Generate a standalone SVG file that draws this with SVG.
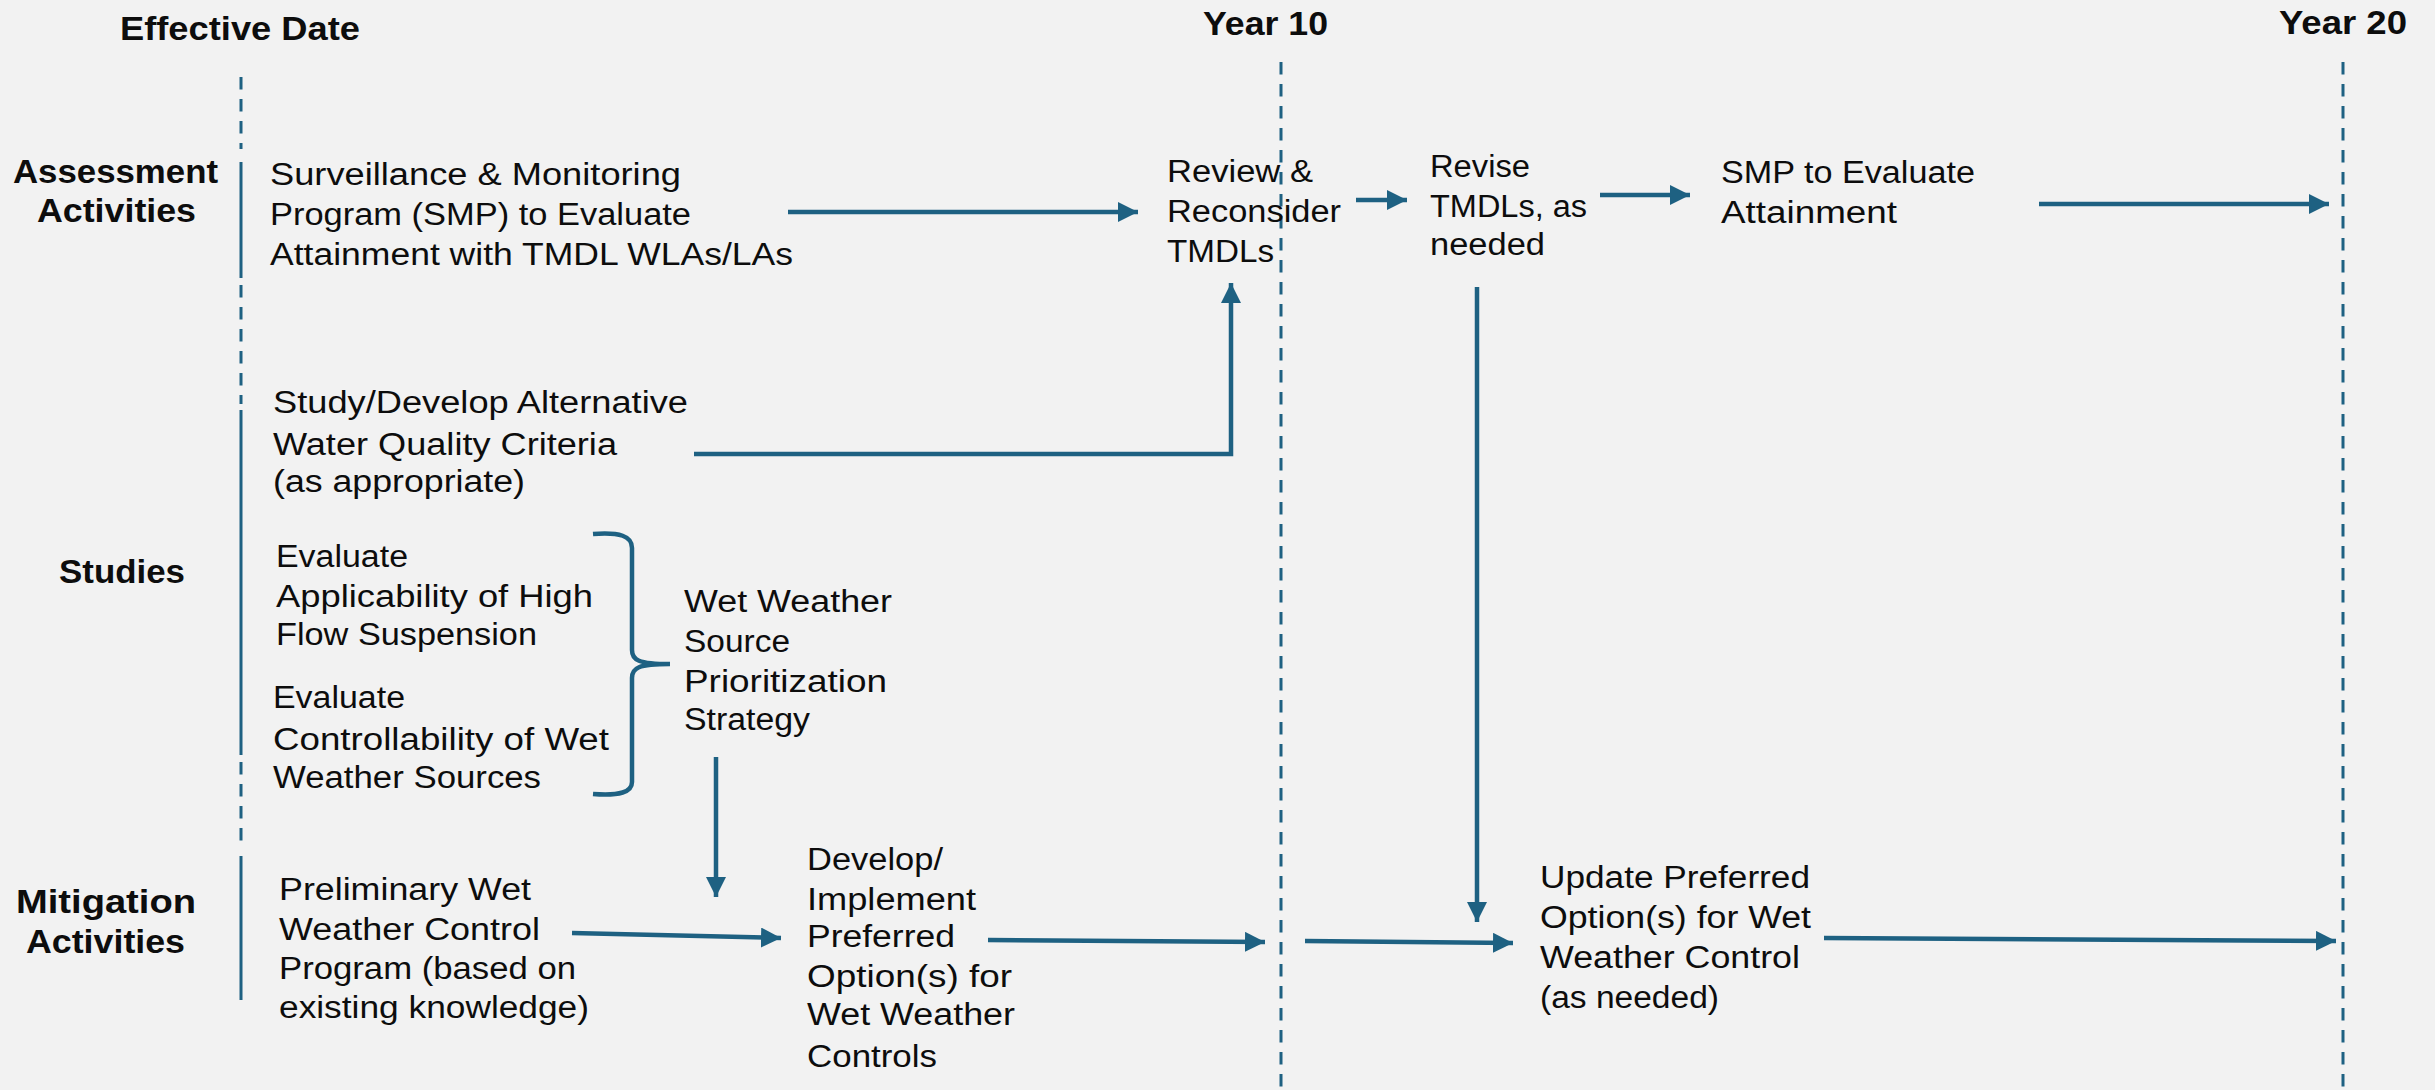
<svg xmlns="http://www.w3.org/2000/svg" width="2435" height="1090" viewBox="0 0 2435 1090">
<style>
  .t { font-family: "Liberation Sans", Arial, sans-serif; font-size: 31px; fill: #0d0d0d; }
  .h { font-family: "Liberation Sans", Arial, sans-serif; font-size: 33px; font-weight: bold; fill: #0d0d0d; }
  .c { fill: none; stroke: #1e6182; stroke-width: 4.5; }
  .tl { fill: none; stroke: #1e6182; stroke-width: 3; stroke-dasharray: 12.5 9.5; }
  .ts { fill: none; stroke: #1e6182; stroke-width: 3; }
</style>
<defs>
  <marker id="ah" markerUnits="userSpaceOnUse" markerWidth="20" markerHeight="20" refX="20" refY="10" orient="auto">
    <path d="M0,0 L20,10 L0,20 z" fill="#1e6182"/>
  </marker>
</defs>
<rect width="2435" height="1090" fill="#f2f2f2"/>

<g id="timeline">
  <line class="tl" x1="241" y1="77" x2="241" y2="149"/>
  <line class="ts" x1="241" y1="162" x2="241" y2="278"/>
  <line class="tl" x1="241" y1="285" x2="241" y2="404"/>
  <line class="ts" x1="241" y1="410" x2="241" y2="755"/>
  <line class="tl" x1="241" y1="762" x2="241" y2="850"/>
  <line class="ts" x1="241" y1="856" x2="241" y2="1000"/>
  <line class="tl" x1="1281" y1="62" x2="1281" y2="1090"/>
  <line class="tl" x1="2343" y1="62" x2="2343" y2="1090"/>
  <text class="h" x="120" y="40" textLength="240" lengthAdjust="spacingAndGlyphs">Effective Date</text>
  <text class="h" x="1203" y="35" textLength="125" lengthAdjust="spacingAndGlyphs">Year 10</text>
  <text class="h" x="2279" y="34" textLength="128" lengthAdjust="spacingAndGlyphs">Year 20</text>
</g>

<g id="row-labels">
  <text class="h" x="13" y="183" textLength="205" lengthAdjust="spacingAndGlyphs">Assessment</text>
  <text class="h" x="37" y="222" textLength="159" lengthAdjust="spacingAndGlyphs">Activities</text>
  <text class="h" x="59" y="583" textLength="126" lengthAdjust="spacingAndGlyphs">Studies</text>
  <text class="h" x="16" y="913" textLength="180" lengthAdjust="spacingAndGlyphs">Mitigation</text>
  <text class="h" x="26" y="953" textLength="159" lengthAdjust="spacingAndGlyphs">Activities</text>
</g>

<g id="smp">
  <text class="t" x="270" y="185" textLength="411" lengthAdjust="spacingAndGlyphs">Surveillance &amp; Monitoring</text>
  <text class="t" x="270" y="225" textLength="421" lengthAdjust="spacingAndGlyphs">Program (SMP) to Evaluate</text>
  <text class="t" x="270" y="265" textLength="523" lengthAdjust="spacingAndGlyphs">Attainment with TMDL WLAs/LAs</text>
</g>

<g id="review">
  <text class="t" x="1167" y="182" textLength="146" lengthAdjust="spacingAndGlyphs">Review &amp;</text>
  <text class="t" x="1167" y="222" textLength="174" lengthAdjust="spacingAndGlyphs">Reconsider</text>
  <text class="t" x="1167" y="262" textLength="107" lengthAdjust="spacingAndGlyphs">TMDLs</text>
</g>

<g id="revise">
  <text class="t" x="1430" y="177" textLength="100" lengthAdjust="spacingAndGlyphs">Revise</text>
  <text class="t" x="1430" y="217" textLength="157" lengthAdjust="spacingAndGlyphs">TMDLs, as</text>
  <text class="t" x="1430" y="255" textLength="115" lengthAdjust="spacingAndGlyphs">needed</text>
</g>

<g id="smp2">
  <text class="t" x="1721" y="183" textLength="254" lengthAdjust="spacingAndGlyphs">SMP to Evaluate</text>
  <text class="t" x="1721" y="223" textLength="176" lengthAdjust="spacingAndGlyphs">Attainment</text>
</g>

<g id="criteria">
  <text class="t" x="273" y="413" textLength="415" lengthAdjust="spacingAndGlyphs">Study/Develop Alternative</text>
  <text class="t" x="273" y="455" textLength="344" lengthAdjust="spacingAndGlyphs">Water Quality Criteria</text>
  <text class="t" x="273" y="492" textLength="252" lengthAdjust="spacingAndGlyphs">(as appropriate)</text>
</g>

<g id="highflow">
  <text class="t" x="276" y="567" textLength="132" lengthAdjust="spacingAndGlyphs">Evaluate</text>
  <text class="t" x="276" y="607" textLength="317" lengthAdjust="spacingAndGlyphs">Applicability of High</text>
  <text class="t" x="276" y="645" textLength="261" lengthAdjust="spacingAndGlyphs">Flow Suspension</text>
</g>

<g id="controllability">
  <text class="t" x="273" y="708" textLength="132" lengthAdjust="spacingAndGlyphs">Evaluate</text>
  <text class="t" x="273" y="750" textLength="336" lengthAdjust="spacingAndGlyphs">Controllability of Wet</text>
  <text class="t" x="273" y="788" textLength="268" lengthAdjust="spacingAndGlyphs">Weather Sources</text>
</g>

<g id="strategy">
  <text class="t" x="684" y="612" textLength="208" lengthAdjust="spacingAndGlyphs">Wet Weather</text>
  <text class="t" x="684" y="652" textLength="106" lengthAdjust="spacingAndGlyphs">Source</text>
  <text class="t" x="684" y="692" textLength="203" lengthAdjust="spacingAndGlyphs">Prioritization</text>
  <text class="t" x="684" y="730" textLength="126" lengthAdjust="spacingAndGlyphs">Strategy</text>
</g>

<g id="preliminary">
  <text class="t" x="279" y="900" textLength="252" lengthAdjust="spacingAndGlyphs">Preliminary Wet</text>
  <text class="t" x="279" y="940" textLength="261" lengthAdjust="spacingAndGlyphs">Weather Control</text>
  <text class="t" x="279" y="979" textLength="297" lengthAdjust="spacingAndGlyphs">Program (based on</text>
  <text class="t" x="279" y="1018" textLength="310" lengthAdjust="spacingAndGlyphs">existing knowledge)</text>
</g>

<g id="develop">
  <text class="t" x="807" y="870" textLength="136" lengthAdjust="spacingAndGlyphs">Develop/</text>
  <text class="t" x="807" y="910" textLength="169" lengthAdjust="spacingAndGlyphs">Implement</text>
  <text class="t" x="807" y="947" textLength="148" lengthAdjust="spacingAndGlyphs">Preferred</text>
  <text class="t" x="807" y="987" textLength="205" lengthAdjust="spacingAndGlyphs">Option(s) for</text>
  <text class="t" x="807" y="1025" textLength="208" lengthAdjust="spacingAndGlyphs">Wet Weather</text>
  <text class="t" x="807" y="1067" textLength="130" lengthAdjust="spacingAndGlyphs">Controls</text>
</g>

<g id="update">
  <text class="t" x="1540" y="888" textLength="270" lengthAdjust="spacingAndGlyphs">Update Preferred</text>
  <text class="t" x="1540" y="928" textLength="271" lengthAdjust="spacingAndGlyphs">Option(s) for Wet</text>
  <text class="t" x="1540" y="968" textLength="260" lengthAdjust="spacingAndGlyphs">Weather Control</text>
  <text class="t" x="1540" y="1008" textLength="179" lengthAdjust="spacingAndGlyphs">(as needed)</text>
</g>

<g id="connectors">
  <line class="c" x1="788" y1="212" x2="1138" y2="212" marker-end="url(#ah)"/>
  <line class="c" x1="1356" y1="200" x2="1407" y2="200" marker-end="url(#ah)"/>
  <line class="c" x1="1600" y1="195" x2="1690" y2="195" marker-end="url(#ah)"/>
  <line class="c" x1="2039" y1="204" x2="2329" y2="204" marker-end="url(#ah)"/>
  <polyline class="c" points="694,454 1231,454 1231,283" marker-end="url(#ah)"/>
  <line class="c" x1="1477" y1="287" x2="1477" y2="922" marker-end="url(#ah)"/>
  <line class="c" x1="716" y1="757" x2="716" y2="897" marker-end="url(#ah)"/>
  <line class="c" x1="572" y1="933" x2="781" y2="938" marker-end="url(#ah)"/>
  <line class="c" x1="988" y1="940" x2="1265" y2="942" marker-end="url(#ah)"/>
  <line class="c" x1="1305" y1="941" x2="1513" y2="943" marker-end="url(#ah)"/>
  <line class="c" x1="1824" y1="938" x2="2336" y2="941" marker-end="url(#ah)"/>
  <path class="c" d="M593,534 C620,532 632,536 632,548 V650 C632,660 638,664 670,664 C638,664 632,668 632,678 V782 C632,792 620,796 593,794" stroke-width="4"/>
</g>
</svg>
